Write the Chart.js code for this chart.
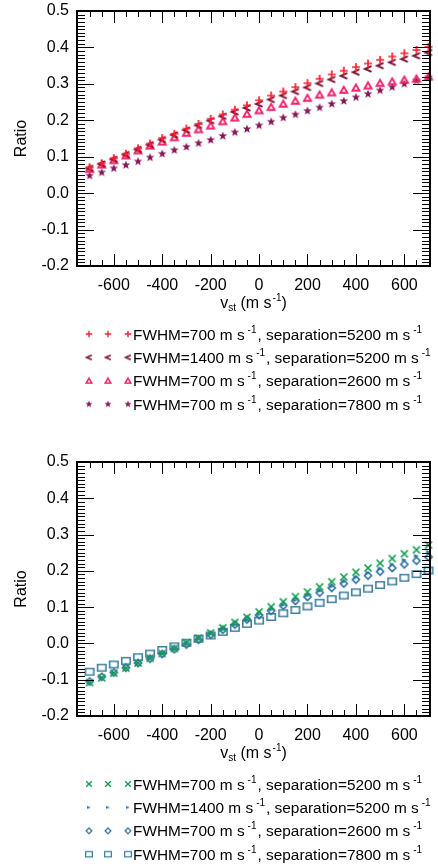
<!DOCTYPE html>
<html>
<head>
<meta charset="utf-8">
<script src="https://cdn.jsdelivr.net/npm/chart.js@4/dist/chart.umd.min.js"></script>
<style>
  body { margin: 0; background: #fff; }
  .panel { position: relative; width: 438px; }
  canvas { display: block; }
  .mk { position: absolute; background: #000; }
</style>
</head>
<body>
<div class="panel" id="p1"><canvas id="top" width="438" height="450"></canvas></div>
<div class="panel" id="p2"><canvas id="bottom" width="438" height="417"></canvas></div>
<script>
// v_st values (m s^-1)
const vst = [-700,-650,-600,-550,-500,-450,-400,-350,-300,-250,-200,-150,-100,-50,0,
  50,100,150,200,250,300,350,400,450,500,550,600,650,700];
const xTicks = [-600,-400,-200,0,200,400,600];
const yTicks = [-0.2,-0.1,0.0,0.1,0.2,0.3,0.4,0.5];

// upper panel
const topPlus = [0.071,0.082,0.096,0.108,0.123,0.136,0.151,0.163,0.177,0.190,0.204,0.216,0.229,0.241,0.255,
  0.268,0.279,0.291,0.302,0.314,0.326,0.336,0.346,0.356,0.366,0.375,0.384,0.393,0.402];
const topLt = [0.068,0.080,0.093,0.106,0.120,0.133,0.147,0.160,0.173,0.186,0.199,0.211,0.223,0.234,0.245,
  0.257,0.268,0.279,0.290,0.301,0.312,0.322,0.332,0.341,0.350,0.359,0.368,0.377,0.386];
const topTri = [0.066,0.078,0.090,0.103,0.117,0.130,0.141,0.153,0.165,0.175,0.185,0.197,0.207,0.217,0.227,
  0.236,0.245,0.253,0.261,0.270,0.276,0.283,0.289,0.295,0.302,0.306,0.311,0.314,0.320];
const topStar = [0.048,0.057,0.068,0.077,0.087,0.098,0.108,0.118,0.127,0.137,0.146,0.157,0.167,0.176,0.186,
  0.196,0.207,0.216,0.226,0.235,0.245,0.253,0.263,0.272,0.282,0.291,0.300,0.309,0.318];

// lower panel
const botX = [-0.108,-0.095,-0.082,-0.068,-0.054,-0.041,-0.028,-0.014,0.002,0.015,0.029,0.043,0.058,0.072,0.087,
  0.101,0.115,0.129,0.142,0.156,0.170,0.183,0.196,0.208,0.221,0.234,0.247,0.258,0.271];
const botGt = [-0.107,-0.094,-0.081,-0.068,-0.055,-0.042,-0.029,-0.016,-0.002,0.011,0.025,0.038,0.052,0.066,0.080,
  0.093,0.106,0.119,0.132,0.145,0.157,0.170,0.182,0.194,0.206,0.218,0.230,0.241,0.252];
const botDia = [-0.105,-0.092,-0.080,-0.067,-0.054,-0.042,-0.029,-0.016,-0.003,0.010,0.024,0.038,0.052,0.066,0.078,
  0.090,0.104,0.117,0.128,0.140,0.153,0.165,0.176,0.187,0.198,0.208,0.218,0.228,0.238];
const botSq = [-0.078,-0.067,-0.058,-0.048,-0.038,-0.028,-0.018,-0.008,0.002,0.013,0.022,0.032,0.043,0.054,0.063,
  0.073,0.083,0.092,0.102,0.112,0.122,0.132,0.141,0.151,0.161,0.171,0.181,0.191,0.201];

// legend text
const fwhm = [700, 1400, 700, 700];
const sep = [5200, 5200, 2600, 7800];

const FONT = "'Liberation Sans', Arial, Helvetica, sans-serif";

// small canvas markers used as pointStyle
function marker(kind, color, s) {
  const c = document.createElement('canvas');
  c.width = c.height = 16;
  const g = c.getContext('2d');
  g.translate(8, 8);
  g.scale(s, s);
  g.strokeStyle = color;
  g.fillStyle = color;
  g.lineWidth = 1.7;
  g.beginPath();
  if (kind === 'plus') {
    g.moveTo(-4, 0); g.lineTo(4, 0); g.moveTo(0, -4); g.lineTo(0, 4); g.stroke();
  } else if (kind === 'x') {
    g.moveTo(-3.5, -3.5); g.lineTo(3.5, 3.5); g.moveTo(3.5, -3.5); g.lineTo(-3.5, 3.5); g.stroke();
  } else if (kind === 'lt') {
    g.lineWidth = 2;
    g.moveTo(3.5, -2.8); g.lineTo(-3, 0); g.lineTo(3.5, 2.8); g.stroke();
  } else if (kind === 'gt') {
    g.moveTo(-2.5, -2); g.lineTo(2.5, 0); g.lineTo(-2.5, 2); g.closePath(); g.fill();
  } else if (kind === 'tri') {
    g.lineWidth = 1.9;
    g.moveTo(0, -3.4); g.lineTo(3.5, 2.8); g.lineTo(-3.5, 2.8); g.closePath(); g.stroke();
  } else if (kind === 'star') {
    for (let i = 0; i < 10; i++) {
      const r = i % 2 ? 1.9 : 4.6;
      const a = -Math.PI / 2 + i * Math.PI / 5;
      if (i === 0) g.moveTo(r * Math.cos(a), r * Math.sin(a));
      else g.lineTo(r * Math.cos(a), r * Math.sin(a));
    }
    g.closePath(); g.fill();
  } else if (kind === 'dia') {
    g.lineWidth = 1.6;
    g.moveTo(0, -3.6); g.lineTo(3.6, 0); g.lineTo(0, 3.6); g.lineTo(-3.6, 0); g.closePath(); g.stroke();
  } else if (kind === 'sq') {
    g.lineWidth = 1.6;
    g.rect(-4.2, -3.2, 8.4, 6.4); g.stroke();
  }
  return c;
}

const topStyles = [['plus', '#ff1f2e'], ['lt', '#7c1436'], ['tri', '#f0206c'], ['star', '#88175a']];
const botStyles = [['x', '#0f9f4c'], ['gt', '#2a78b2'], ['dia', '#2f709c'], ['sq', '#3f809f']];

function sup(ctx, x, y, t) {
  ctx.font = '10px ' + FONT;
  ctx.fillText(t, x, y - 7);
  return ctx.measureText(t).width;
}

// titles and legend
const decor = {
  id: 'decor',
  afterDraw(chart, args, opts) {
    const ctx = chart.ctx;
    const a = chart.chartArea;
    ctx.save();
    ctx.fillStyle = '#000';

    ctx.save();
    ctx.font = '16px ' + FONT;
    ctx.textAlign = 'center';
    ctx.textBaseline = 'middle';
    ctx.translate(22, (a.top + a.bottom) / 2);
    ctx.rotate(-Math.PI / 2);
    ctx.fillText('Ratio', 0, 0);
    ctx.restore();

    // x title: v_st (m s^-1)
    ctx.textBaseline = 'alphabetic';
    ctx.textAlign = 'left';
    const by = a.bottom + 42;
    ctx.font = '16px ' + FONT;
    const wv = ctx.measureText('v').width, wm = ctx.measureText(' (m s').width, wp = ctx.measureText(')').width;
    ctx.font = '10px ' + FONT;
    const wst = ctx.measureText('st').width, w1 = ctx.measureText('-1').width;
    let x = (a.left + a.right) / 2 - (wv + wst + wm + w1 + wp + 1) / 2;
    ctx.font = '16px ' + FONT;
    ctx.fillText('v', x, by); x += wv;
    ctx.font = '10px ' + FONT;
    ctx.fillText('st', x, by + 3); x += wst;
    ctx.font = '16px ' + FONT;
    ctx.fillText(' (m s', x, by); x += wm + 1;
    sup(ctx, x, by, '-1'); x += w1;
    ctx.font = '16px ' + FONT;
    ctx.fillText(')', x, by);

    // legend
    opts.styles.forEach((st, i) => {
      const cy = a.bottom + 68 + i * 23.4;
      const img = marker(st[0], st[1], 0.8);
      [89, 108, 128].forEach(mx => ctx.drawImage(img, mx - 8, cy - 8));
      let tx = 133;
      const base = cy + 5.5;
      ctx.font = '15.4px ' + FONT;
      const t1 = 'FWHM=' + fwhm[i] + ' m s';
      ctx.fillText(t1, tx, base); tx += ctx.measureText(t1).width + 3;
      tx += sup(ctx, tx, base, '-1') + 1;
      ctx.font = '15.4px ' + FONT;
      const t2 = ', separation=' + sep[i] + ' m s';
      ctx.fillText(t2, tx, base); tx += ctx.measureText(t2).width + 3;
      sup(ctx, tx, base, '-1');
    });
    ctx.restore();
  }
};

// frame and inward IDL-style ticks as thin html bars placed from the chart's scales
function bar(box, x, y, w, h) {
  const d = document.createElement('div');
  d.className = 'mk';
  d.style.left = x + 'px';
  d.style.top = y + 'px';
  d.style.width = w + 'px';
  d.style.height = h + 'px';
  box.appendChild(d);
}

function frameTicks(chart, box) {
  const a = chart.chartArea;
  const sx = chart.scales.x, sy = chart.scales.y;
  const L = Math.round(a.left), R = Math.round(a.right), T = Math.round(a.top), B = Math.round(a.bottom);
  for (let v = -750; v <= 700; v += 50) {
    const px = Math.round(sx.getPixelForValue(v));
    if (px <= L || px >= R) continue;
    const len = Math.abs(v) % 200 === 0 ? 12 : 6;
    bar(box, px, B - len, 1, len);
    bar(box, px, T, 1, len);
  }
  for (let i = -19; i <= 49; i++) {
    const py = Math.round(sy.getPixelForValue(i / 100));
    const len = Math.abs(i) % 10 === 0 ? 17 : 8;
    bar(box, L, py, len, 1);
    bar(box, R - len, py, len, 1);
  }
  bar(box, L - 1, T - 1, R - L + 2, 2);
  bar(box, L - 1, B - 1, R - L + 2, 2);
  bar(box, L - 1, T - 1, 2, B - T + 2);
  bar(box, R - 1, T - 1, 2, B - T + 2);
}

function makePanel(id, boxId, series, styles, topPad, xHeight) {
  const chart = new Chart(document.getElementById(id), {
    type: 'scatter',
    data: {
      datasets: series.map((vals, i) => ({
        data: vst.map((v, k) => ({ x: v, y: vals[k] })),
        pointStyle: marker(styles[i][0], styles[i][1], 1),
        pointRadius: 4,
        showLine: false,
        clip: false
      }))
    },
    options: {
      responsive: false,
      animation: false,
      layout: { padding: { top: topPad, right: 8, left: 0, bottom: 0 } },
      plugins: { legend: { display: false }, tooltip: { enabled: false }, decor: { styles: styles } },
      scales: {
        x: {
          type: 'linear', min: -752, max: 706,
          afterBuildTicks: ax => { ax.ticks = xTicks.map(v => ({ value: v })); },
          afterFit: ax => { ax.height = xHeight; ax.paddingLeft = ax.paddingRight = 0; },
          grid: { display: false, drawTicks: false },
          border: { display: false },
          ticks: { color: '#000', font: { family: FONT, size: 16 }, padding: 10, maxRotation: 0, autoSkip: false }
        },
        y: {
          min: -0.2, max: 0.5,
          afterBuildTicks: ax => { ax.ticks = yTicks.map(v => ({ value: v })); },
          afterFit: ax => { ax.width = 77; ax.paddingTop = ax.paddingBottom = 0; },
          grid: { display: false, drawTicks: false },
          border: { display: false },
          ticks: { color: '#000', font: { family: FONT, size: 16 }, padding: 8, callback: v => v.toFixed(1) }
        }
      }
    },
    plugins: [decor]
  });
  frameTicks(chart, document.getElementById(boxId));
}

makePanel('top', 'p1', [topPlus, topLt, topTri, topStar], topStyles, 11, 184);
makePanel('bottom', 'p2', [botX, botGt, botDia, botSq], botStyles, 12, 151);
</script>
</body>
</html>
